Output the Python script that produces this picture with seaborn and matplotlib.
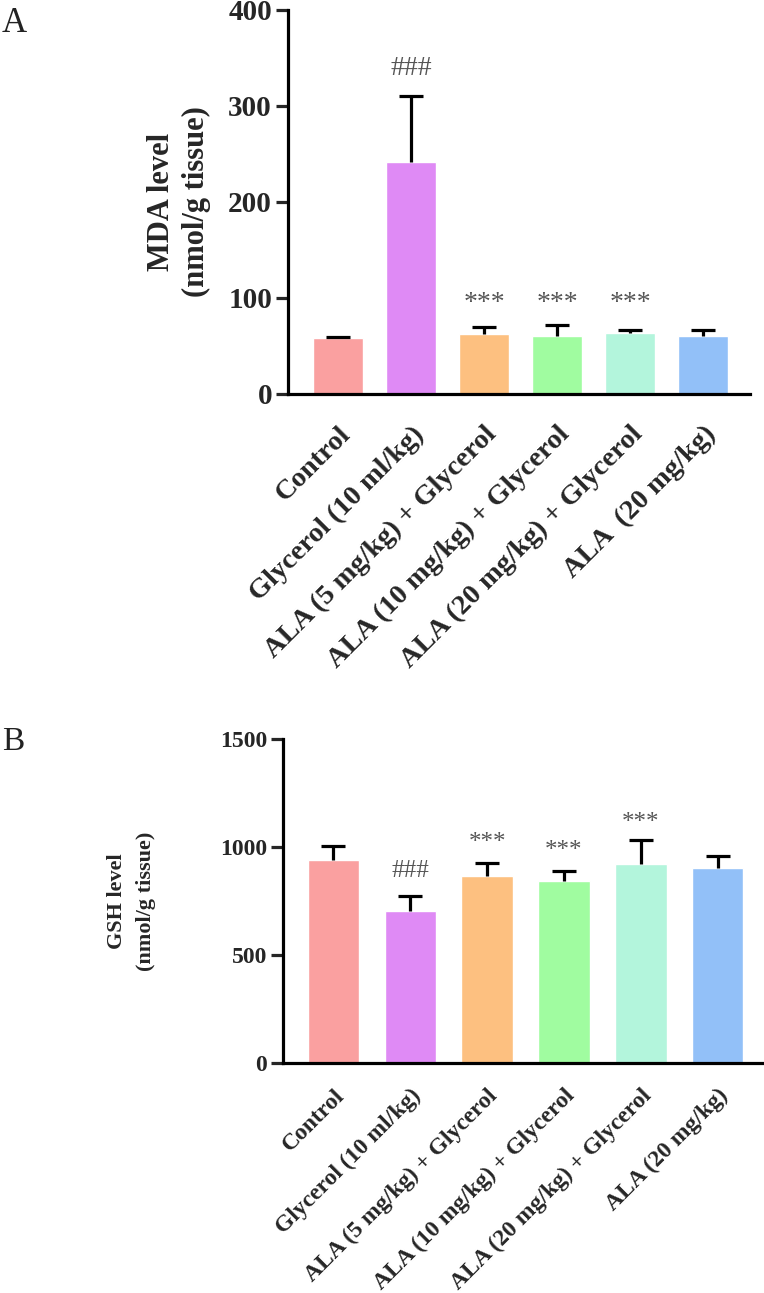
import numpy as np
import pandas as pd
import matplotlib
matplotlib.use("Agg")
import matplotlib.pyplot as plt
import matplotlib.transforms as mtransforms
import seaborn as sns

# groups and colours
groups = ["Control", "Glycerol (10 ml/kg)", "ALA (5 mg/kg) + Glycerol",
          "ALA (10 mg/kg) + Glycerol", "ALA (20 mg/kg) + Glycerol", "ALA (20 mg/kg)"]
labels_a = ["Control", "Glycerol (10 ml/kg)", "ALA (5 mg/kg) + Glycerol",
            "ALA (10 mg/kg) + Glycerol", "ALA (20 mg/kg) + Glycerol", "ALA  (20 mg/kg)"]
labels_b = groups
colors = ["#FAA0A0", "#DF8AF5", "#FDC080", "#A0FCA0", "#B3F5DC", "#92C0F8"]

# panel A: MDA (mean, SD)
mda_mean = [58, 242, 62, 60, 64, 60]
mda_sd = [1, 68, 8, 12, 3, 7]
mda_marks = ["", "###", "***", "***", "***", ""]
mda_mark_y = [0, 339, 94, 94, 94, 0]

# panel B: GSH (mean, SD)
gsh_mean = [941, 705, 864, 843, 921, 905]
gsh_sd = [62, 70, 62, 44, 110, 52]
gsh_marks = ["", "###", "***", "***", "***", ""]
gsh_mark_y = [0, 890, 1020, 982, 1113, 0]

sns.set_style("ticks")
plt.rcParams["font.family"] = ["Liberation Serif", "DejaVu Serif"]

fig = plt.figure(figsize=(7.64, 12.93), dpi=100)
W, H = 764, 1293


def panel(rect, mean, sd, marks, mark_y, ylim, yticks, ylabel, xlabels,
          xlim, tick_fs, ylab_fs, xlab_fs, mark_fs, width, labelpad,
          xpad, lspace):
    l, r, t, b = rect
    ax = fig.add_axes([l / W, 1 - b / H, (r - l) / W, (b - t) / H])
    df = pd.DataFrame({"group": groups, "value": mean})
    sns.barplot(data=df, x="group", y="value", hue="group", palette=colors,
                legend=False, saturation=1, width=width, ax=ax, errorbar=None)
    xs = np.arange(len(mean))
    eb = ax.errorbar(xs, mean, yerr=[np.zeros(len(sd)), sd], fmt="none",
                     ecolor="black", elinewidth=2.3, capsize=8.5, capthick=2.3,
                     zorder=1)
    # only the upper cap, like the original
    eb[1][0].set_visible(False)
    for x, m, y in zip(xs, marks, mark_y):
        if m:
            ax.text(x, y, m, ha="center", va="center", fontsize=mark_fs,
                    color="#555555")
    ax.set_xlim(*xlim)
    ax.set_ylim(*ylim)
    ax.set_yticks(yticks)
    ax.set_yticklabels([str(v) for v in yticks], fontsize=tick_fs,
                       fontweight="bold")
    ax.set_xticks(xs)
    ax.set_xticklabels(xlabels, rotation=45, ha="right",
                       rotation_mode="anchor", fontsize=xlab_fs,
                       fontweight="bold")
    shift = mtransforms.ScaledTranslation(5 / 100, 0, fig.dpi_scale_trans)
    for lab in ax.get_xticklabels():
        lab.set_transform(lab.get_transform() + shift)
    ax.tick_params(axis="y", length=8.5, width=2.3, pad=3)
    ax.tick_params(axis="x", length=0, pad=xpad)
    ax.set_xlabel("")
    ax.set_ylabel(ylabel, fontsize=ylab_fs, fontweight="bold",
                  labelpad=labelpad, linespacing=lspace)
    sns.despine(ax=ax)
    for s in ["left", "bottom"]:
        ax.spines[s].set_linewidth(2.3)
        ax.spines[s].set_color("black")
    return ax


ax_a = panel((288, 750, 10, 394), mda_mean, mda_sd, mda_marks, mda_mark_y,
             (0, 400), [0, 100, 200, 300, 400],
             "MDA level\n(nmol/g tissue)", labels_a, (-0.685, 5.644),
             21, 22, 20.5, 20, 0.685, 12, 20, 1.3)
ax_b = panel((283, 764, 739, 1063), gsh_mean, gsh_sd, gsh_marks, gsh_mark_y,
             (0, 1500), [0, 500, 1000, 1500],
             "GSH level\n(nmol/g tissue)", labels_b, (-0.657, 5.603),
             17, 16, 17, 18, 0.67, 46, 16, 1.6)

fig.text(2 / W, 1 - 32 / H, "A", fontsize=25, color="#222222")
fig.text(2 / W, 1 - 750 / H, "B", fontsize=24, color="#222222")

fig.savefig("out.png", dpi=100)
